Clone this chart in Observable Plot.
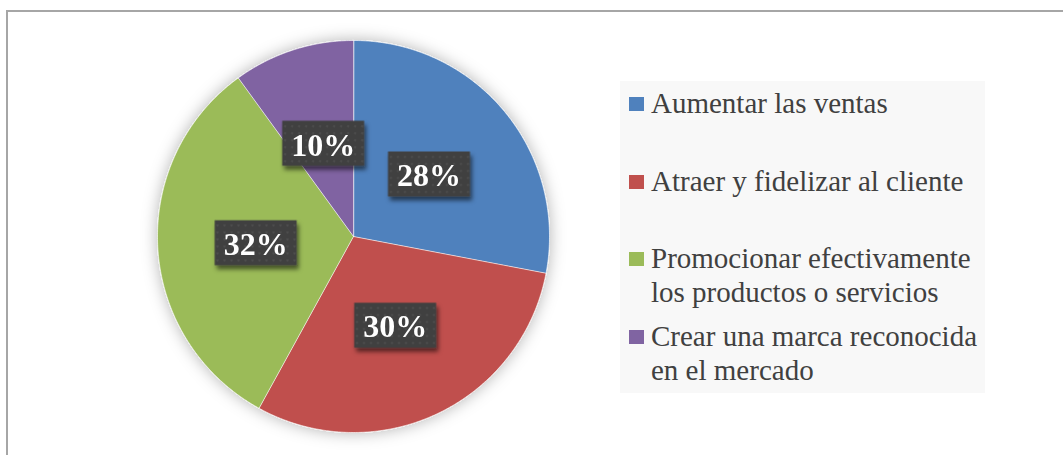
<!DOCTYPE html>
<html>
<head>
<meta charset="utf-8">
<script src="https://cdn.jsdelivr.net/npm/d3@7"></script>
<script src="https://cdn.jsdelivr.net/npm/@observablehq/plot@0.6"></script>
<style>
  html, body { margin: 0; padding: 0; background: #ffffff; }
  #wrap { position: relative; width: 1063px; height: 455px; overflow: hidden; background: #ffffff; font-family: "Liberation Serif", "Times New Roman", serif; }
  #frame { position: absolute; left: 6px; top: 10px; width: 1200px; height: 600px; border: 2px solid #a6a6a6; box-sizing: border-box; }
  #chart { position: absolute; left: 0; top: 0; }
  #legend { position: absolute; left: 620px; top: 81px; width: 365px; height: 312px; background: #f8f8f8; box-sizing: border-box; padding: 5px 0 0 9px; }
  .item { display: flex; align-items: flex-start; height: 77.7px; }
  .sw { width: 15px; height: 14px; margin-top: 11px; flex: none; }
  .lab { margin-left: 7px; width: 332px; font-size: 29px; line-height: 34px; color: #404040; }
</style>
</head>
<body>
<div id="wrap">
  <div id="frame"></div>
  <div id="chart"></div>
  <div id="legend"></div>
</div>
<script>
const categories = [
  "Aumentar las ventas",
  "Atraer y fidelizar al cliente",
  "Promocionar efectivamente los productos o servicios",
  "Crear una marca reconocida en el mercado"
];
const values = [28, 30, 32, 10];
const colors = ["#4f81bd", "#c0504d", "#9bbb59", "#8064a2"];
const labels = values.map(v => v + "%");

// Pie geometry derived from the values (angles from 12 o'clock, clockwise)
const arcs = d3.pie().sort(null)(values);
const slicePts = [];
arcs.forEach((a, i) => {
  slicePts.push({slice: categories[i], px: 0, py: 0});
  const n = Math.max(2, Math.ceil((a.endAngle - a.startAngle) / (Math.PI / 360)));
  for (let k = 0; k <= n; k++) {
    const t = a.startAngle + (a.endAngle - a.startAngle) * k / n;
    slicePts.push({slice: categories[i], px: Math.sin(t), py: Math.cos(t)});
  }
});
const labelPts = arcs.map((a, i) => {
  const m = (a.startAngle + a.endAngle) / 2;
  return {label: labels[i], px: 0.5 * Math.sin(m), py: 0.5 * Math.cos(m)};
});

const boxSymbol = { draw(ctx) { ctx.rect(-41, -22.5, 82, 45); } };

const plot = Plot.plot({
  width: 1063,
  height: 455,
  marginLeft: 157,
  marginRight: 514,
  marginTop: 40,
  marginBottom: 23,
  style: {background: "transparent", fontFamily: "Liberation Serif, Times New Roman, serif"},
  x: {domain: [-1, 1], axis: null},
  y: {domain: [-1, 1], axis: null},
  color: {domain: categories, range: colors},
  marks: [
    Plot.line(slicePts, {x: "px", y: "py", z: "slice", fill: "slice", stroke: "white", strokeWidth: 1, strokeOpacity: 0.6, curve: "linear-closed"}),
    Plot.dot(labelPts, {x: "px", y: "py", symbol: boxSymbol, fill: "url(#dots)", stroke: "none"}),
    Plot.text(labelPts, {x: "px", y: "py", text: "label", fill: "white", fontSize: 32, fontWeight: "bold", dy: 2})
  ]
});

const svg = d3.select(plot);
const defs = svg.insert("defs", ":first-child");
const pat = defs.append("pattern").attr("id", "dots").attr("patternUnits", "userSpaceOnUse").attr("width", 7).attr("height", 7);
pat.append("rect").attr("width", 7).attr("height", 7).attr("fill", "#404040");
pat.append("rect").attr("x", 3).attr("y", 3).attr("width", 1.6).attr("height", 1.6).attr("fill", "#585858");
const glow = defs.append("filter").attr("id", "glow").attr("x", "-20%").attr("y", "-20%").attr("width", "140%").attr("height", "140%");
glow.append("feDropShadow").attr("dx", 0).attr("dy", 0).attr("stdDeviation", 8).attr("flood-color", "#000").attr("flood-opacity", 0.3);
const sh = defs.append("filter").attr("id", "boxshadow").attr("x", "-30%").attr("y", "-30%").attr("width", "160%").attr("height", "170%");
sh.append("feDropShadow").attr("dx", 2).attr("dy", 4).attr("stdDeviation", 2.2).attr("flood-color", "#000").attr("flood-opacity", 0.55);
svg.select('g[aria-label="line"]').attr("filter", "url(#glow)");
svg.select('g[aria-label="dot"]').attr("filter", "url(#boxshadow)");

document.getElementById("chart").appendChild(plot);

const legend = d3.select("#legend");
categories.forEach((c, i) => {
  const it = legend.append("div").attr("class", "item");
  it.append("div").attr("class", "sw").style("background", colors[i]);
  it.append("div").attr("class", "lab").text(c);
});
</script>
</body>
</html>
